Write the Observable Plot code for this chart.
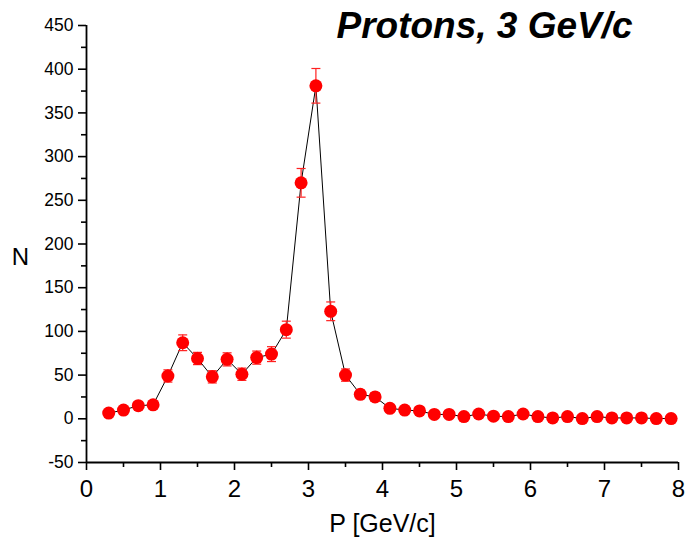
<!DOCTYPE html>
<html>
<head>
<meta charset="utf-8">
<script src="https://cdn.jsdelivr.net/npm/d3@7"></script>
<script src="https://cdn.jsdelivr.net/npm/@observablehq/plot@0.6"></script>
<style>
  html, body { margin: 0; padding: 0; background: #fff; }
  #chart svg { display: block; }
</style>
</head>
<body>
<div id="chart"></div>
<script>
// ---- data ----
const momentum = [0.3, 0.5, 0.7, 0.9, 1.1, 1.3, 1.5, 1.7, 1.9, 2.1, 2.3, 2.5, 2.7, 2.9, 3.1, 3.3, 3.5, 3.7, 3.9,
                  4.1, 4.3, 4.5, 4.7, 4.9, 5.1, 5.3, 5.5, 5.7, 5.9, 6.1, 6.3, 6.5, 6.7, 6.9, 7.1, 7.3, 7.5, 7.7, 7.9];
const counts = [6.5, 10, 15, 16, 49, 87, 69, 48, 68, 51, 70, 74, 102, 270, 381, 123, 50, 28, 25,
                12, 10, 9, 5, 5, 2.5, 5.5, 3, 2.5, 5.5, 2.5, 1, 2.5, 0.3, 2.5, 1, 1, 1, 0.3, 0.3];
const errors = [2.5, 3, 4, 4, 7, 9, 7, 7, 7.5, 7, 7.5, 8.5, 9.7, 16.4, 19.8, 10.7, 7, 5, 5,
                3.5, 3, 3, 2.2, 2.2, 1.6, 2.3, 1.7, 1.6, 2.3, 1.6, 1, 1.6, 0.5, 1.6, 1, 1, 1, 0.5, 0.5];
const xTicks = [0, 1, 2, 3, 4, 5, 6, 7, 8];
const xMinorTicks = [0.5, 1.5, 2.5, 3.5, 4.5, 5.5, 6.5, 7.5];
const yTicks = [-50, 0, 50, 100, 150, 200, 250, 300, 350, 400, 450];
const yMinorTicks = [-25, 25, 75, 125, 175, 225, 275, 325, 375, 425];
const titleText = "Protons, 3 GeV/c";
const xLabel = "P [GeV/c]";
const yLabel = "N";

const data = momentum.map((p, i) => ({p, n: counts[i], lo: counts[i] - errors[i], hi: counts[i] + errors[i]}));

const capSymbol = {
  draw(context, size) {
    const r = Math.sqrt(size / Math.PI);
    context.moveTo(-r, 0);
    context.lineTo(r, 0);
  }
};

const font = "'Liberation Sans', Arial, sans-serif";

const chart = Plot.plot({
  width: 687,
  height: 545,
  marginLeft: 86,
  marginRight: 9,
  marginTop: 25,
  marginBottom: 83,
  style: {fontFamily: font, color: "black", background: "white", overflow: "visible"},
  x: {domain: [0, 8]},
  y: {domain: [-50, 450]},
  marks: [
    // axes
    Plot.axisX({ticks: xTicks, tickSize: 8, tickPadding: 9, fontSize: 24, strokeWidth: 1.6, label: null, tickFormat: d => String(d)}),
    Plot.axisX({ticks: xMinorTicks, tickSize: 5, strokeWidth: 1.6, text: null, label: null}),
    Plot.axisY({ticks: yTicks, tickSize: 8, tickPadding: 5, fontSize: 17.5, strokeWidth: 1.6, label: null, tickFormat: d => String(d)}),
    Plot.axisY({ticks: yMinorTicks, tickSize: 5, strokeWidth: 1.6, text: null, label: null}),
    Plot.ruleY([-50], {stroke: "black", strokeWidth: 1.8}),
    Plot.ruleX([0], {stroke: "black", strokeWidth: 1.8}),
    // connecting line
    Plot.line(data, {x: "p", y: "n", stroke: "black", strokeWidth: 1}),
    // error bars
    Plot.ruleX(data, {x: "p", y1: "lo", y2: "hi", stroke: "#ff2020", strokeWidth: 1.2}),
    Plot.dot(data, {x: "p", y: "hi", symbol: capSymbol, r: 4.5, stroke: "#ff2020", strokeWidth: 1.2, fill: "none"}),
    Plot.dot(data, {x: "p", y: "lo", symbol: capSymbol, r: 4.5, stroke: "#ff2020", strokeWidth: 1.2, fill: "none"}),
    // points
    Plot.dot(data, {x: "p", y: "n", r: 6.5, fill: "red", stroke: "none"}),
    // labels
    Plot.text([xLabel], {frameAnchor: "bottom", dy: 61, fontSize: 25, textAnchor: "middle", lineAnchor: "middle", fill: "black"}),
    Plot.text([yLabel], {frameAnchor: "left", dx: -66, dy: 13, fontSize: 24, textAnchor: "middle", lineAnchor: "middle", fill: "black"}),
    Plot.text([titleText], {frameAnchor: "top", dx: 102, dy: 1, fontSize: 37, fontWeight: "bold", fontStyle: "italic", textAnchor: "middle", lineAnchor: "middle", fill: "black"})
  ]
});

document.getElementById("chart").appendChild(chart);
</script>
</body>
</html>
